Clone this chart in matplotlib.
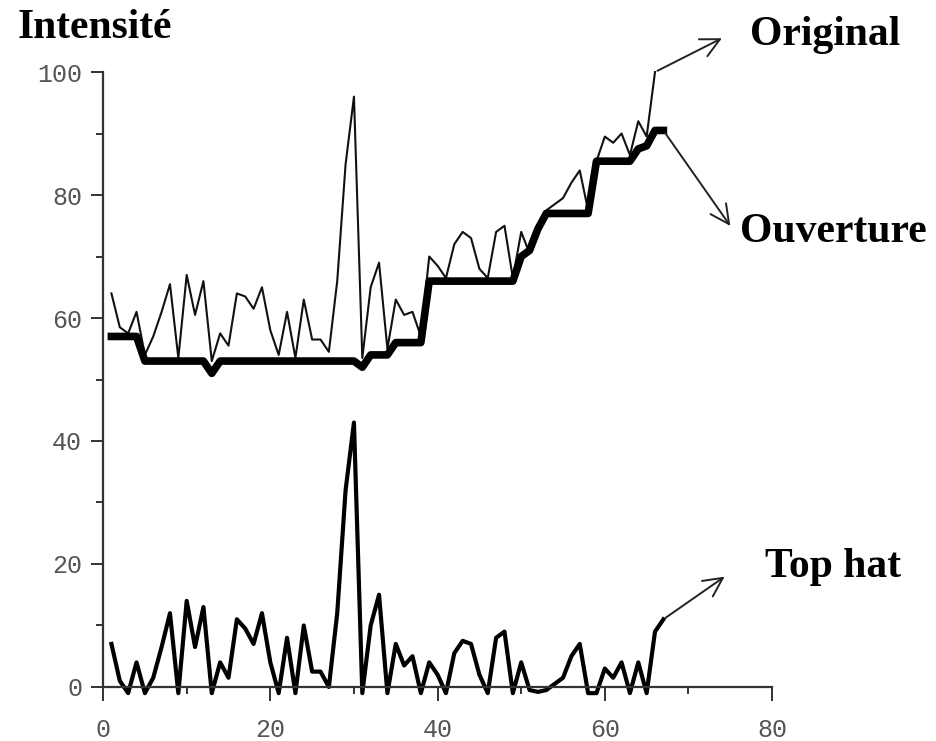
import numpy as np
import matplotlib.pyplot as plt
from matplotlib.ticker import MultipleLocator

# intensity profile (original), morphological opening and top hat
original = [64, 58.5, 57.5, 61, 54, 57, 61, 65.5, 53.5, 67,
            60.5, 66, 53, 57.5, 55.5, 64, 63.5, 61.5, 65, 58,
            54, 61, 53.5, 63, 56.5, 56.5, 54.5, 66, 85, 96,
            53.5, 65, 69, 55, 63, 60.5, 61, 57, 70, 68.5,
            66.5, 72, 74, 73, 68, 66.5, 74, 75, 66.5, 74,
            70.5, 74.5, 77.5, 78.5, 79.5, 82, 84, 77.5, 85.5, 89.5,
            88.5, 90, 86.5, 92, 89.5, 100]
opening = [57, 57, 57, 57, 53, 53, 53, 53, 53, 53,
           53, 53, 51, 53, 53, 53, 53, 53, 53, 53,
           53, 53, 53, 53, 53, 53, 53, 53, 53, 53,
           52, 54, 54, 54, 56, 56, 56, 56, 66, 66,
           66, 66, 66, 66, 66, 66, 66, 66, 66, 70,
           71, 74.5, 77, 77, 77, 77, 77, 77, 85.5, 85.5,
           85.5, 85.5, 85.5, 87.5, 88, 90.5, 90.5]
tophat = [7, 1, -1, 4, -1, 1.5, 6.5, 12, -1, 14,
          6.5, 13, -1, 4, 1.5, 11, 9.5, 7, 12, 4,
          -1, 8, -1, 10, 2.5, 2.5, 0, 12, 32, 43,
          -1, 10, 15, -1, 7, 3.5, 5, -1, 4, 2,
          -1, 5.5, 7.5, 7, 2, -1, 8, 9, -1, 4,
          -0.5, -0.8, -0.5, 0.5, 1.5, 5, 7, -1, -1, 3,
          1.5, 4, -1, 4, -1, 9, 11]

x_orig = np.arange(1, len(original) + 1)
x_open = np.arange(1, len(opening) + 1)
x_top = np.arange(1, len(tophat) + 1)

fig = plt.figure(figsize=(9.37, 7.41), dpi=100)
ax = fig.add_axes([0.110, 0.0729, 0.714, 0.8299])

ax.plot(x_orig, original, color='#111111', lw=1.5, clip_on=False)
ax.plot(x_open, opening, color='black', lw=5.5, clip_on=False)
ax.plot(x_top, tophat, color='black', lw=3, clip_on=False)

ax.set_xlim(0, 80)
ax.set_ylim(0, 100)
ax.xaxis.set_major_locator(MultipleLocator(20))
ax.xaxis.set_minor_locator(MultipleLocator(10))
ax.yaxis.set_major_locator(MultipleLocator(20))
ax.yaxis.set_minor_locator(MultipleLocator(10))

for s in ['top', 'right']:
    ax.spines[s].set_visible(False)
for s in ['left', 'bottom']:
    ax.spines[s].set_linewidth(1.6)
    ax.spines[s].set_color('#333333')

ax.tick_params(which='major', direction='out', length=9, width=1.4, color='#333333',
               labelsize=18, labelcolor='#555555', pad=6)
ax.tick_params(axis='x', which='major', length=10, pad=12)
ax.tick_params(which='minor', direction='out', length=5, width=1.4, color='#333333')
for lab in ax.get_xticklabels() + ax.get_yticklabels():
    lab.set_family('Liberation Mono')

serif = dict(family='Liberation Serif', weight='bold', fontsize=30)
fig.text(0.019, 0.962, 'Intensité', ha='left', va='center', **serif)
fig.text(0.800, 0.953, 'Original', ha='left', va='center', **serif)
fig.text(0.790, 0.687, 'Ouverture', ha='left', va='center', **serif)
fig.text(0.816, 0.235, 'Top hat', ha='left', va='center', **serif)

arr = dict(arrowstyle='->', color='#222222', lw=1.4, mutation_scale=34)
ax.annotate('', xy=(74.3, 105.7), xytext=(x_orig[-1], original[-1]),
            arrowprops=arr, annotation_clip=False)
ax.annotate('', xy=(75.2, 74.6), xytext=(x_open[-1], opening[-1]),
            arrowprops=arr, annotation_clip=False)
ax.annotate('', xy=(74.6, 18.2), xytext=(x_top[-1], tophat[-1]),
            arrowprops=arr, annotation_clip=False)

plt.savefig('out.png', dpi=100)
